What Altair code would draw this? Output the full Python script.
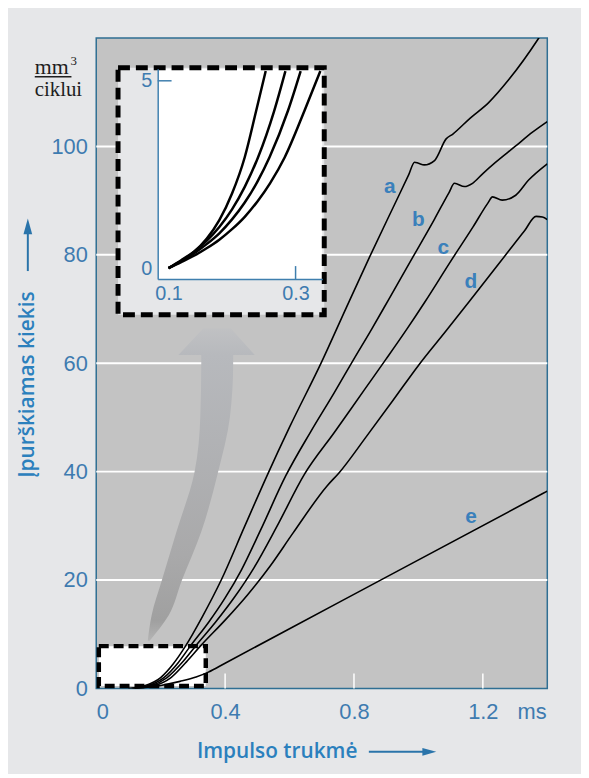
import altair as alt
import pandas as pd

# ---------------- data ----------------
series_names = ["a", "b", "c", "d", "e"]

# main chart curves (ms, mm3 per cycle)
a_t = [0.100, 0.150, 0.200, 0.240, 0.277, 0.330, 0.388, 0.460, 0.532, 0.600, 0.700, 0.778, 0.850, 0.930,
       0.970, 0.988, 1.000, 1.018, 1.050, 1.086, 1.107, 1.160, 1.218, 1.280, 1.369, 1.400]
a_v = [0.00, 0.50, 2.00, 4.60, 7.80, 13.3, 20.0, 29.8, 39.5, 48.2, 60.3, 70.5, 79.8, 89.8,
       94.8, 97.1, 96.9, 96.6, 97.4, 101.4, 102.3, 105.2, 108.1, 112.3, 119.6, 122.5]

b_t = [0.110, 0.160, 0.210, 0.255, 0.292, 0.350, 0.400, 0.450, 0.510, 0.588, 0.665, 0.738, 0.800, 0.855,
       0.908, 0.980, 1.050, 1.095, 1.112, 1.143, 1.168, 1.200, 1.240, 1.300, 1.353, 1.400]
b_v = [0.00, 0.50, 2.00, 4.80, 7.80, 12.3, 16.7, 21.8, 29.2, 39.2, 47.3, 54.5, 60.8, 66.3,
       71.8, 79.3, 86.6, 91.5, 93.2, 92.6, 93.2, 95.0, 97.1, 100.0, 102.6, 104.6]

c_t = [0.115, 0.170, 0.220, 0.270, 0.308, 0.370, 0.430, 0.490, 0.560, 0.646, 0.740, 0.831, 0.900, 0.963,
       1.021, 1.100, 1.170, 1.215, 1.230, 1.260, 1.302, 1.342, 1.400]
c_v = [0.00, 0.50, 2.00, 5.00, 7.80, 12.2, 16.9, 22.3, 29.8, 39.5, 47.3, 55.0, 60.8, 66.2,
       71.4, 78.8, 85.2, 89.5, 90.7, 90.1, 91.0, 93.8, 96.8]

d_t = [0.120, 0.180, 0.230, 0.280, 0.323, 0.400, 0.470, 0.540, 0.610, 0.717, 0.754, 0.840, 0.923, 1.000,
       1.086, 1.159, 1.250, 1.330, 1.365, 1.385, 1.400]
d_v = [0.00, 0.50, 1.90, 4.90, 7.80, 12.6, 17.3, 22.6, 28.6, 37.4, 39.8, 46.6, 53.3, 59.6,
       66.0, 71.5, 78.4, 84.5, 87.1, 87.0, 86.5]

e_t = [0.120, 0.200, 0.260, 0.310, 0.348, 0.400, 0.600, 0.932, 1.400]
e_v = [0.00, 0.55, 1.30, 2.10, 3.00, 4.65, 11.0, 21.55, 36.4]

# inset curves (magnified start of a-d)
ia_t = [0.100, 0.120, 0.140, 0.160, 0.180, 0.200, 0.220, 0.238, 0.253]
ia_v = [0.00, 0.19, 0.43, 0.78, 1.28, 1.99, 2.96, 4.20, 5.26]
ib_t = [0.100, 0.120, 0.140, 0.160, 0.180, 0.200, 0.220, 0.241, 0.266, 0.284]
ib_v = [0.00, 0.21, 0.44, 0.73, 1.10, 1.57, 2.17, 2.96, 4.18, 5.26]
ic_t = [0.100, 0.120, 0.140, 0.160, 0.180, 0.200, 0.220, 0.240, 0.259, 0.288, 0.308]
ic_v = [0.00, 0.19, 0.39, 0.64, 0.93, 1.30, 1.75, 2.31, 2.96, 4.20, 5.26]
id_t = [0.100, 0.120, 0.140, 0.160, 0.180, 0.200, 0.220, 0.240, 0.260, 0.283, 0.314, 0.339]
id_v = [0.00, 0.16, 0.33, 0.53, 0.76, 1.04, 1.37, 1.78, 2.27, 2.96, 4.20, 5.26]

label_names = ["a", "b", "c", "d", "e"]
label_t = [0.911, 1.000, 1.077, 1.163, 1.163]
label_v = [92.5, 86.4, 81.3, 74.9, 31.6]

x_ticks = [0, 0.4, 0.8, 1.2]
y_ticks = [0, 20, 40, 60, 80, 100]
grid_values = [20, 40, 60, 80, 100]
inset_x_ticks = [0.1, 0.3]
inset_y_ticks = [0, 5]
inset_tick_mark_x = [0.3]
inset_tick_mark_y = [5]

# region of the main chart that the inset magnifies (as drawn)
zoom_t = [0.008, 0.340]
zoom_v = [0.45, 7.8]

# big curved arrow (shaft and head), in data units
arrow_v = [8.8, 13.5, 19.8, 28.9, 39.9, 50.1, 60.0, 61.5]
arrow_left = [0.160, 0.172, 0.203, 0.249, 0.305, 0.323, 0.326, 0.326]
arrow_right = [0.166, 0.225, 0.265, 0.326, 0.378, 0.415, 0.425, 0.425]
head_v = [61.5, 66.4]
head_left = [0.255, 0.332]
head_right = [0.492, 0.418]

# ---------------- tables ----------------
def long_table(curves):
    rows = []
    for name, (ts, vs) in curves.items():
        for t, v in zip(ts, vs):
            rows.append({"series": name, "t": t, "v": v})
    return pd.DataFrame(rows)

df_lines = long_table({"a": (a_t, a_v), "b": (b_t, b_v), "c": (c_t, c_v), "d": (d_t, d_v), "e": (e_t, e_v)})
df_inset = long_table({"a": (ia_t, ia_v), "b": (ib_t, ib_v), "c": (ic_t, ic_v), "d": (id_t, id_v)})
df_labels = pd.DataFrame({"name": label_names, "t": label_t, "v": label_v})
df_grid = pd.DataFrame({"v": grid_values})
df_xt = pd.DataFrame({"t": [t for t in x_ticks if t > 0]})
df_zoom = pd.DataFrame({"t": [zoom_t[0]], "t1": [zoom_t[1]], "v": [zoom_v[0]], "v1": [zoom_v[1]]})
df_arrow = pd.DataFrame({"v": arrow_v, "t": arrow_left, "tr": arrow_right})
df_head = pd.DataFrame({"v": head_v, "t": head_left, "tr": head_right})
df_itx = pd.DataFrame({"t": inset_tick_mark_x})
df_ity = pd.DataFrame({"v": inset_tick_mark_y})
one = pd.DataFrame({"k": [0]})

# ---------------- layout / style ----------------
W, H = 455, 656
BG = "#e6e7e9"
PLOT_BG = "#c3c3c3"
BORDER = "#2f6f93"
TICK_BLUE = "#3e7bb0"
TITLE_BLUE = "#2b80bd"
LABEL_BLUE = "#3a80bb"
ARROW_BLUE = "#2a74aa"
SANS = "Liberation Sans"
SERIF = "Liberation Serif, DejaVu Serif, serif"
TITLE_FONT = "Open Sans"
LABEL_EXPR = "'' + datum.value"

# inset placement inside the plot area (pixels)
IX0, IX1, IY0, IY1 = 62, 228, 31, 243
FX0, FX1, FY0, FY1 = 22, 230, 30, 279

xs = alt.Scale(domain=[0, 1.4], nice=False, zero=False)
ys = alt.Scale(domain=[0, 120], nice=False, zero=False)
ixs = alt.Scale(domain=[0.083, 0.342], range=[IX0, IX1], nice=False, zero=False)
iys = alt.Scale(domain=[-0.29, 5.32], range=[IY1, IY0], nice=False, zero=False)

x_axis = alt.Axis(values=x_ticks, labelExpr=LABEL_EXPR, grid=False, ticks=False, domain=False,
                  labelFont=SANS, labelFontSize=22, labelColor=TICK_BLUE, labelPadding=13,
                  title="Impulso trukmė", titleFont=TITLE_FONT, titleFontSize=21, titleFontWeight=600,
                  titleColor=TITLE_BLUE, titleX=182, titleY=64, titleBaseline="middle", titleAlign="center")
y_axis = alt.Axis(values=y_ticks, labelExpr=LABEL_EXPR, grid=False, ticks=False, domain=False,
                  labelFont=SANS, labelFontSize=22, labelColor=TICK_BLUE, labelPadding=9,
                  title="Įpurškiamas kiekis", titleFont=TITLE_FONT, titleFontSize=21, titleFontWeight=600,
                  titleColor=TITLE_BLUE, titleX=-69, titleY=349, titleBaseline="middle", titleAlign="center")
ix_axis = alt.Axis(orient="bottom", offset=-(H - IY1), values=inset_x_ticks, labelExpr=LABEL_EXPR, grid=False,
                   ticks=False, domain=True, domainColor="#3f7fae", domainWidth=1.5, labelFlush=False,
                   labelFont=SANS, labelFontSize=20, labelColor=TICK_BLUE, labelPadding=5, title=None, zindex=1)
iy_axis = alt.Axis(orient="left", offset=-IX0, values=inset_y_ticks, labelExpr=LABEL_EXPR, grid=False,
                   ticks=False, domain=True, domainColor="#3f7fae", domainWidth=1.5,
                   labelFont=SANS, labelFontSize=20, labelColor=TICK_BLUE, labelPadding=6, title=None, zindex=1)

X = lambda f: alt.X(f, scale=xs, axis=x_axis)
Y = lambda f: alt.Y(f, scale=ys, axis=y_axis)

shaft_fill = alt.Gradient(gradient="linear", x1=0, x2=0, y1=0, y2=1,
                          stops=[alt.GradientStop(offset=0, color="#b7b9bd"),
                                 alt.GradientStop(offset=0.7, color="#a9a9aa"),
                                 alt.GradientStop(offset=0.93, color="#a0a0a0"),
                                 alt.GradientStop(offset=1, color="#b4b4b4")])
head_fill = alt.Gradient(gradient="linear", x1=0, x2=0, y1=0, y2=1,
                         stops=[alt.GradientStop(offset=0, color="#c0c1c3"),
                                alt.GradientStop(offset=1, color="#b7b9bd")])

# ---------------- main chart layers ----------------
grid = alt.Chart(df_grid).mark_rule(color="white", strokeWidth=2).encode(y=Y("v:Q"))

shaft = alt.Chart(df_arrow).mark_area(orient="horizontal", fill=shaft_fill, interpolate="monotone").encode(
    y=Y("v:Q"), x=X("t:Q"), x2="tr:Q")
head = alt.Chart(df_head).mark_area(orient="horizontal", fill=head_fill).encode(
    y=Y("v:Q"), x=X("t:Q"), x2="tr:Q")

zoom_fill = alt.Chart(df_zoom).mark_rect(fill="white").encode(x=X("t:Q"), x2="t1:Q", y=Y("v:Q"), y2="v1:Q")

xticks_in = alt.Chart(df_xt).mark_rule(color="white", strokeWidth=1.5).encode(
    x=X("t:Q"), y=alt.value(H), y2=alt.value(H - 15))

lines = alt.Chart(df_lines).mark_line(color="black", strokeWidth=1.6, clip=True, interpolate="monotone").encode(
    x=X("t:Q"), y=Y("v:Q"), detail="series:N")

zoom_stroke = alt.Chart(df_zoom).mark_rect(filled=False, color="black", strokeWidth=4.5, strokeDash=[10, 5]).encode(
    x=X("t:Q"), x2="t1:Q", y=Y("v:Q"), y2="v1:Q")

labels = alt.Chart(df_labels).mark_text(font=SANS, fontSize=21, fontWeight="bold", color=LABEL_BLUE,
                                        baseline="middle", align="center").encode(
    x=X("t:Q"), y=Y("v:Q"), text="name:N")

ms_text = alt.Chart(one).mark_text(font=SANS, fontSize=22, color=TICK_BLUE, align="left", baseline="middle").encode(
    x=alt.value(425), y=alt.value(680), text=alt.value("ms"))

unit_mm = alt.Chart(one).mark_text(font=SERIF, fontSize=22, color="#1e1e1e", align="left",
                                   baseline="alphabetic").encode(
    x=alt.value(-62), y=alt.value(36), text=alt.value("mm"))
unit_3 = alt.Chart(one).mark_text(font=SERIF, fontSize=13, color="#1e1e1e", align="left",
                                  baseline="alphabetic").encode(
    x=alt.value(-26), y=alt.value(27), text=alt.value("3"))
unit_bar = alt.Chart(one).mark_rule(color="#1e1e1e", strokeWidth=1.3).encode(
    x=alt.value(-62), x2=alt.value(-25), y=alt.value(39))
unit_cyc = alt.Chart(one).mark_text(font=SERIF, fontSize=21, color="#1e1e1e", align="left",
                                    baseline="alphabetic").encode(
    x=alt.value(-62), y=alt.value(58), text=alt.value("ciklui"))

y_arrow_shaft = alt.Chart(one).mark_rule(color=ARROW_BLUE, strokeWidth=2).encode(
    x=alt.value(-69), y=alt.value(235), y2=alt.value(195))
y_arrow_head = alt.Chart(one).mark_point(shape="M0,-1L0.55,1L-0.55,1Z", size=256, filled=True,
                                         color=ARROW_BLUE, opacity=1).encode(
    x=alt.value(-69), y=alt.value(190))
x_arrow_shaft = alt.Chart(one).mark_rule(color=ARROW_BLUE, strokeWidth=2).encode(
    x=alt.value(275), x2=alt.value(331), y=alt.value(720))
x_arrow_head = alt.Chart(one).mark_point(shape="M1,0L-1,-0.55L-1,0.55Z", size=196, filled=True,
                                         color=ARROW_BLUE, opacity=1).encode(
    x=alt.value(336), y=alt.value(720))

main = alt.layer(grid, shaft, head, zoom_fill, xticks_in, lines, zoom_stroke, labels, ms_text,
                 unit_mm, unit_3, unit_bar, unit_cyc, y_arrow_shaft, y_arrow_head, x_arrow_shaft, x_arrow_head)

# ---------------- inset layers ----------------
IXE = lambda f: alt.X(f, scale=ixs, axis=ix_axis)
IYE = lambda f: alt.Y(f, scale=iys, axis=iy_axis)

frame_fill = alt.Chart(one).mark_rect(fill=BG).encode(
    x=alt.value(FX0), x2=alt.value(FX1), y=alt.value(FY0), y2=alt.value(FY1))
inset_bg = alt.Chart(one).mark_rect(fill="white").encode(
    x=alt.value(IX0), x2=alt.value(IX1), y=alt.value(IY0), y2=alt.value(IY1))
itick_x = alt.Chart(df_itx).mark_rule(color="#3f7fae", strokeWidth=1.5).encode(
    x=IXE("t:Q"), y=alt.value(IY1), y2=alt.value(IY1 - 13))
itick_y = alt.Chart(df_ity).mark_rule(color="#3f7fae", strokeWidth=1.5).encode(
    y=IYE("v:Q"), x=alt.value(IX0), x2=alt.value(IX0 + 14))
inset_lines = alt.Chart(df_inset).mark_line(color="black", strokeWidth=2.5, interpolate="monotone").encode(
    x=IXE("t:Q"), y=IYE("v:Q"), detail="series:N")
frame_stroke = alt.Chart(one).mark_rect(filled=False, color="black", strokeWidth=5, strokeDash=[12, 6]).encode(
    x=alt.value(FX0), x2=alt.value(FX1), y=alt.value(FY0), y2=alt.value(FY1))

inset = alt.layer(frame_fill, inset_bg, itick_x, itick_y, inset_lines, frame_stroke)

chart = alt.layer(main, inset).resolve_scale(x="independent", y="independent").properties(
    width=W, height=H,
    padding={"left": 89, "top": 27, "right": 34, "bottom": 83},
    autosize=alt.AutoSizeParams(type="none"),
    background=BG,
).configure_view(fill=PLOT_BG, stroke=BORDER, strokeWidth=1.5)

chart.save("out.html", embed_options={"renderer": "svg", "actions": False})
